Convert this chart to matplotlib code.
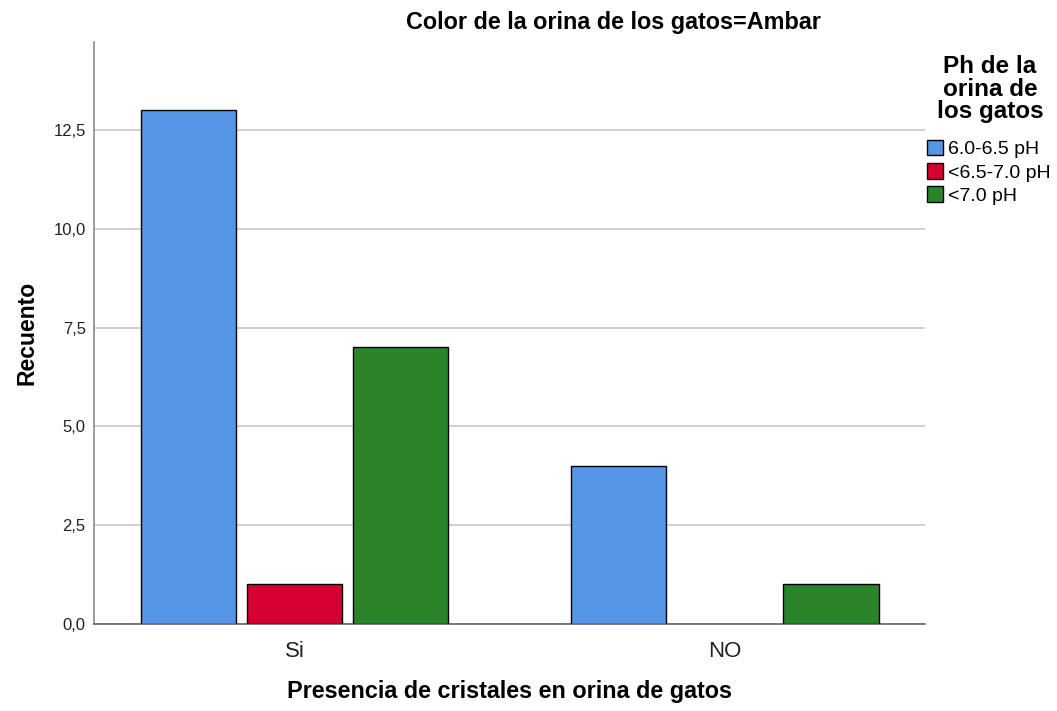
import numpy as np
import matplotlib
matplotlib.use("Agg")
from matplotlib import pyplot as plt
from matplotlib.patches import Patch
from matplotlib.ticker import FuncFormatter

plt.rcParams['font.family'] = ['Liberation Sans', 'DejaVu Sans']

# data
categories = ["Si", "NO"]
series_names = ["6.0-6.5 pH", "<6.5-7.0 pH", "<7.0 pH"]
counts = [
    [13, 4],   # 6.0-6.5 pH
    [1, 0],    # <6.5-7.0 pH
    [7, 1],    # <7.0 pH
]
colors = ["#5596e6", "#d70032", "#29842a"]
yticks = [0.0, 2.5, 5.0, 7.5, 10.0, 12.5]

fig = plt.figure(figsize=(10.57, 7.11), dpi=100)
ax = fig.add_axes([94/1057, 1 - 624/711, (925-94)/1057, (624-42)/711])

x = np.arange(len(categories))
width = 0.221
step = 0.2465
for i, (name, vals) in enumerate(zip(series_names, counts)):
    offs = (i - 1) * step
    for xi, v in zip(x, vals):
        if v > 0:
            ax.bar(xi + offs, v, width, color=colors[i], edgecolor="black",
                   linewidth=1.0, zorder=3)

ax.set_xlim(-0.467, 1.465)
ax.set_ylim(0, 14.73)
ax.set_yticks(yticks)
ax.yaxis.set_major_formatter(FuncFormatter(lambda v, p: ("%.1f" % v).replace(".", ",")))
ax.set_xticks(x)
ax.set_xticklabels(categories, fontsize=16, color="#222222")
ax.tick_params(axis="y", length=0, labelsize=12, pad=6, labelcolor="#222222")
ax.tick_params(axis="x", length=0, pad=12)
ax.grid(axis="y", color="#c8c8c8", linewidth=1.2, zorder=0)

for s in ["top", "right"]:
    ax.spines[s].set_visible(False)
ax.spines["left"].set_color("#8a8a8a")
ax.spines["bottom"].set_color("#666666")
ax.spines["left"].set_linewidth(1.2)
ax.spines["bottom"].set_linewidth(1.2)

ax.set_ylabel("Recuento", fontsize=16.5, fontweight="bold", labelpad=11)
ax.set_xlabel("Presencia de cristales en orina de gatos", fontsize=16.8,
              fontweight="bold", labelpad=13)

fig.text(613/1057, 1 - 22/711, "Color de la orina de los gatos=Ambar",
         ha="center", va="center", fontsize=16.8, fontweight="bold")

fig.text(990/1057, 1 - 89/711, "Ph de la\norina de\nlos gatos", ha="center",
         va="center", fontsize=17.5, fontweight="bold", linespacing=0.95)

handles = [Patch(facecolor=c, edgecolor="black", linewidth=1.0) for c in colors]
fig.legend(handles, series_names, loc="upper left",
           bbox_to_anchor=(919/1057, 1 - 132/711), frameon=False,
           fontsize=14, handlelength=0.85, handleheight=0.85,
           handletextpad=0.25, labelspacing=0.25, borderaxespad=0)

fig.savefig("out.png", dpi=100)
